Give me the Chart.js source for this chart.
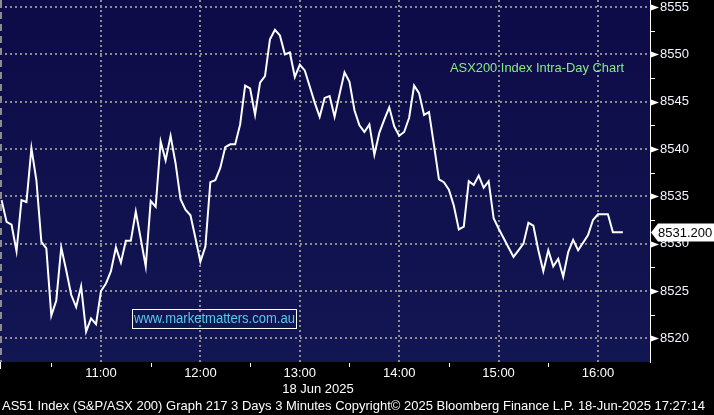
<!doctype html>
<html lang="en">
<head>
<meta charset="utf-8">
<title>ASX200 Index Intra-Day Chart</title>
<style>
  html, body { margin: 0; padding: 0; background: #000; }
  #chart { display: block; }
</style>
</head>
<body>
<canvas id="chart" width="714" height="415"></canvas>
<script src="https://cdn.jsdelivr.net/npm/chart.js@4.4.1/dist/chart.umd.min.js"></script>
<script>
// 3-minute closes, one array per trading hour (minutes counted from 10:00)
const hourStarts = [0, 60, 120, 180, 240, 300, 360];
const prices10 = [8534.6, 8532.3, 8532.0, 8529.2, 8534.6, 8534.4, 8540.1, 8536.7, 8530.2, 8529.5,
                  8522.4, 8524.0, 8529.6, 8527.2, 8524.6, 8523.3, 8525.5, 8520.7, 8522.1, 8521.5];
const prices11 = [8525.0, 8525.8, 8527.1, 8529.6, 8528.0, 8530.3, 8530.3, 8533.4, 8530.5, 8527.6,
                  8534.5, 8533.9, 8540.8, 8538.8, 8541.4, 8538.5, 8534.7, 8533.6, 8533.0, 8530.6];
const prices12 = [8528.1, 8529.7, 8536.5, 8536.7, 8538.0, 8540.2, 8540.5, 8540.5, 8542.6, 8546.7,
                  8546.4, 8543.6, 8547.0, 8547.7, 8551.6, 8552.6, 8552.0, 8550.0, 8550.2, 8547.6];
const prices13 = [8548.9, 8548.3, 8546.6, 8544.9, 8543.4, 8545.4, 8545.6, 8543.4, 8545.8, 8548.1,
                  8547.1, 8544.1, 8542.5, 8541.8, 8542.6, 8539.4, 8541.7, 8543.1, 8544.4, 8542.4];
const prices14 = [8541.4, 8541.8, 8543.3, 8546.7, 8545.9, 8543.6, 8543.9, 8540.4, 8536.8, 8536.5,
                  8535.7, 8534.0, 8531.5, 8531.8, 8536.6, 8536.2, 8537.2, 8535.9, 8536.6, 8532.7];
const prices15 = [8531.6, 8530.6, 8529.6, 8528.6, 8529.3, 8530.0, 8532.2, 8531.9, 8529.3, 8527.1,
                  8529.3, 8527.6, 8528.4, 8526.5, 8529.1, 8530.4, 8529.3, 8530.1, 8530.9, 8532.5];
const prices16 = [8533.1, 8533.1, 8533.1, 8531.2, 8531.2, 8531.2];

const hourTicks = [60, 120, 180, 240, 300, 360];
const hourLabels = ['11:00', '12:00', '13:00', '14:00', '15:00', '16:00'];
const halfHourTicks = [30, 90, 150, 210, 270, 330];
const yTicks = [8520, 8525, 8530, 8535, 8540, 8545, 8550, 8555];
const yMinorTicks = [8522.5, 8527.5, 8532.5, 8537.5, 8542.5, 8547.5, 8552.5];
const lastPrice = 8531.2;
const dateLabel = '18 Jun 2025';
const titleText = 'ASX200 Index Intra-Day Chart';
const siteText = 'www.marketmatters.com.au';
const footerText = 'AS51 Index (S&P/ASX 200) Graph 217 3 Days 3 Minutes Copyright\u00a9 2025 Bloomberg Finance L.P. 18-Jun-2025 17:27:14';

const sessions = [prices10, prices11, prices12, prices13, prices14, prices15, prices16];
const points = [];
sessions.forEach((arr, h) => arr.forEach((v, i) => points.push({ x: hourStarts[h] + i * 3, y: v })));

const FONT = '"Liberation Sans", Arial, sans-serif';

const decor = {
  id: 'decor',
  beforeDraw(chart) {
    const { ctx, chartArea: a } = chart;
    ctx.save();
    ctx.fillStyle = '#000';
    ctx.fillRect(0, 0, chart.width, chart.height);
    const g = ctx.createLinearGradient(0, a.top, 0, a.bottom);
    g.addColorStop(0, '#0d0b48');
    g.addColorStop(1, '#121652');
    ctx.fillStyle = g;
    ctx.fillRect(a.left, a.top, a.right - a.left, a.bottom - a.top);
    ctx.restore();
  },
  beforeDatasetsDraw(chart) {
    const { ctx, chartArea: a } = chart;
    // day separator on the left edge
    ctx.save();
    ctx.strokeStyle = '#8c8c8c';
    ctx.lineWidth = 2;
    ctx.setLineDash([7, 5]);
    ctx.beginPath();
    ctx.moveTo(a.left + 1, a.top);
    ctx.lineTo(a.left + 1, a.bottom);
    ctx.stroke();
    ctx.restore();
  },
  afterDraw(chart) {
    const { ctx, chartArea: a, scales: { x, y } } = chart;
    ctx.save();
    ctx.fillStyle = '#fff';
    ctx.strokeStyle = '#fff';
    ctx.lineWidth = 1;

    // y axis arrows at major ticks, small marks at minor ticks
    yTicks.forEach(v => {
      const py = Math.round(y.getPixelForValue(v)) + 0.5;
      ctx.beginPath();
      ctx.moveTo(a.right + 1, py - 3);
      ctx.lineTo(a.right + 9, py);
      ctx.lineTo(a.right + 1, py + 3);
      ctx.closePath();
      ctx.fill();
    });
    yMinorTicks.forEach(v => {
      const py = Math.round(y.getPixelForValue(v)) + 0.5;
      ctx.beginPath();
      ctx.moveTo(a.right, py);
      ctx.lineTo(a.right + 5, py);
      ctx.stroke();
    });

    // x axis half hour marks
    halfHourTicks.forEach(v => {
      const px = Math.round(x.getPixelForValue(v)) + 0.5;
      ctx.beginPath();
      ctx.moveTo(px, a.bottom + 1);
      ctx.lineTo(px, a.bottom + 5);
      ctx.stroke();
    });
    ctx.beginPath();
    ctx.moveTo(0.5, a.bottom);
    ctx.lineTo(0.5, a.bottom + 7);
    ctx.stroke();

    // date and footer
    ctx.textAlign = 'center';
    ctx.textBaseline = 'middle';
    ctx.font = '13px ' + FONT;
    ctx.fillText(dateLabel, 318, 389);
    ctx.textAlign = 'left';
    ctx.fillText(footerText, 2, 406, 710);

    // chart title
    ctx.fillStyle = '#86ec86';
    ctx.fillText(titleText, 450, 68, 174);

    // website box
    ctx.strokeStyle = '#fff';
    ctx.strokeRect(132.5, 309.5, 164, 19);
    ctx.fillStyle = '#55c9ec';
    ctx.font = '14px ' + FONT;
    ctx.fillText(siteText, 134, 319.5, 161);

    // last price tag
    const ly = Math.round(y.getPixelForValue(lastPrice)) + 0.5;
    ctx.fillStyle = '#fff';
    ctx.beginPath();
    ctx.moveTo(a.right + 1, ly);
    ctx.lineTo(a.right + 8, ly - 9);
    ctx.lineTo(714, ly - 9);
    ctx.lineTo(714, ly + 9);
    ctx.lineTo(a.right + 8, ly + 9);
    ctx.closePath();
    ctx.fill();
    ctx.fillStyle = '#000';
    ctx.font = '13px ' + FONT;
    ctx.fillText(lastPrice.toFixed(3), a.right + 8, ly + 1, 56);
    ctx.restore();
  }
};

new Chart(document.getElementById('chart'), {
  type: 'line',
  data: {
    datasets: [{
      data: points,
      borderColor: '#ffffff',
      borderWidth: 2,
      pointRadius: 0,
      tension: 0
    }]
  },
  options: {
    responsive: false,
    animation: false,
    devicePixelRatio: 1,
    layout: { padding: 0, autoPadding: false },
    plugins: { legend: { display: false }, tooltip: { enabled: false } },
    scales: {
      x: {
        type: 'linear',
        min: -0.97,
        max: 391.4,
        afterBuildTicks: s => { s.ticks = hourTicks.map(v => ({ value: v })); },
        afterFit: s => {
          s.height = 53;
          s.paddingLeft = 0; s.paddingRight = 0; s.paddingTop = 0; s.paddingBottom = 0;
        },
        ticks: {
          color: '#ffffff',
          font: { family: FONT, size: 13 },
          padding: 4,
          maxRotation: 0,
          autoSkip: false,
          callback: (v) => hourLabels[hourTicks.indexOf(v)]
        },
        grid: { color: '#8c8c8c', lineWidth: 2, drawTicks: false },
        border: { display: false, dash: [2, 3] }
      },
      y: {
        type: 'linear',
        position: 'right',
        min: 8517.5,
        max: 8555.74,
        afterBuildTicks: s => { s.ticks = yTicks.map(v => ({ value: v })); },
        afterFit: s => {
          s.width = 64;
          s.paddingLeft = 0; s.paddingRight = 0; s.paddingTop = 0; s.paddingBottom = 0;
        },
        ticks: {
          color: '#f2f4ff',
          font: { family: FONT, size: 13 },
          padding: 1,
          autoSkip: false,
          callback: v => String(v)
        },
        grid: { color: '#8c8c8c', lineWidth: 2, drawTicks: true, tickLength: 9, tickColor: 'rgba(0,0,0,0)' },
        border: { display: true, color: '#ffffff', width: 1, dash: [2, 3] }
      }
    }
  },
  plugins: [decor]
});
</script>
</body>
</html>
